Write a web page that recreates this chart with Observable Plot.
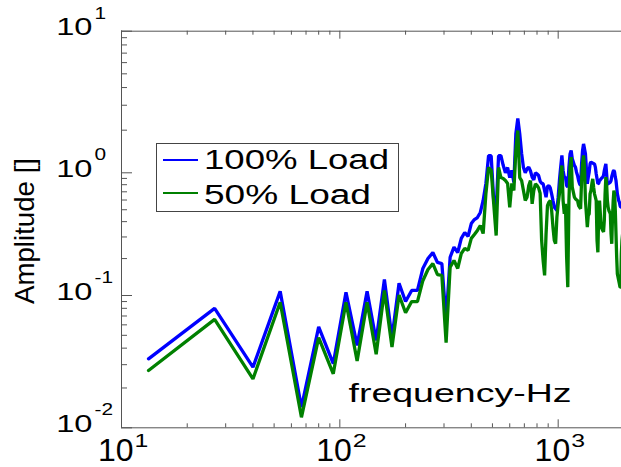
<!DOCTYPE html>
<html><head><meta charset="utf-8">
<script src="https://cdn.jsdelivr.net/npm/d3@7"></script>
<script src="https://cdn.jsdelivr.net/npm/@observablehq/plot@0.6"></script>
<style>
body{margin:0;background:#fff;font-family:"Liberation Sans",Arial,sans-serif;}
#wrap{position:relative;width:621px;height:467px;overflow:hidden;background:#fff;}
</style></head><body><div id="wrap"></div>
<script>
// frequencies (Hz)
const freq = [13.3,26.7,40,53.3,66.7,80,93.3,106.7,120,133.3,146.7,160,173.3,186.7,200,213.3,226.7,240,253.3,266.7,
280,293.3,306.7,320,333.3,346.7,360,373.3,386.7,400,413.3,426.7,440,453.3,466.7,480,493.3,506.7,520,533.3,
546.7,560,573.3,586.7,600,613.3,626.7,640,653.3,666.7,680,693.3,706.7,720,733.3,746.7,760,773.3,786.7,800,
813.3,826.7,840,853.3,866.7,880,893.3,906.7,920,933.3,946.7,960,973.3,986.7,1000,1013.3,1026.7,1040,1053.3,1066.7,
1080,1093.3,1106.7,1120,1133.3,1146.7,1160,1173.3,1186.7,1200,1213.3,1226.7,1240,1253.3,1266.7,1280,1293.3,1306.7,1320,1333.3,
1346.7,1360,1373.3,1386.7,1400,1413.3,1426.7,1440,1453.3,1466.7,1480,1493.3,1506.7,1520,1533.3,1546.7,1560,1573.3,1586.7,1600,
1613.3,1626.7,1640,1653.3,1666.7,1680,1693.3,1706.7,1720,1733.3,1746.7,1760,1773.3,1786.7,1800,1813.3,1826.7,1840,1853.3,1866.7,
1880,1893.3,1906.7,1920,1933.3,1946.7,1960,1973.3,1986.7,2000];
// amplitude, 100% load
const load100 = [0.0332,0.080,0.0287,0.108,0.0143,0.058,0.0305,0.106,0.042,0.108,
0.0457,0.135,0.048,0.126,0.090,0.11,0.11,0.166,0.200,0.224,
0.186,0.182,0.0646,0.205,0.248,0.224,0.292,0.326,0.303,0.386,
0.416,0.432,0.475,0.595,0.818,1.32,1.32,0.595,0.493,1.32,
1.32,1.13,1.0,1.09,0.915,1.04,0.834,1.89,2.42,1.89,
1.37,1.09,1.0,1.067,1.096,1.03,0.921,0.876,1.0,0.981,
0.951,0.855,0.823,0.813,0.717,0.633,0.773,0.788,0.754,0.674,
0.594,0.525,0.509,0.493,0.633,0.865,1.096,1.325,1.038,0.921,
0.921,0.788,0.764,1.096,1.36,1.44,1.255,1.19,1.126,1.096,
1.01,0.951,0.865,0.813,0.788,1.157,1.44,1.60,1.48,1.36,
1.067,0.813,0.921,1.01,1.157,1.19,1.18,1.17,1.16,1.157,
1.096,0.981,0.893,0.813,0.823,0.865,0.876,0.893,0.91,0.921,
0.951,1.038,1.096,1.157,0.981,0.813,0.813,0.823,0.83,0.839,
0.865,0.933,0.981,1.027,1.038,1.01,0.921,0.865,0.764,0.674,
0.633,0.594,0.576,0.541,0.525,0.525,0.525,0.525,0.525,0.525];
// amplitude, 50% load
const load50 = [0.0271,0.066,0.0234,0.089,0.012,0.048,0.0256,0.089,0.032,0.089,
0.036,0.11,0.0407,0.101,0.074,0.090,0.090,0.132,0.163,0.182,
0.148,0.146,0.044,0.170,0.193,0.166,0.220,0.242,0.233,0.292,
0.314,0.339,0.372,0.320,0.678,1.09,1.04,0.562,0.308,1.09,
0.915,0.899,0.865,0.818,0.522,0.818,0.717,1.44,1.99,0.915,
0.865,0.717,0.595,0.633,0.788,0.865,0.558,0.717,0.813,0.788,
0.754,0.682,0.281,0.193,0.146,0.318,0.541,0.576,0.594,0.493,
0.360,0.281,0.264,0.435,0.558,0.674,0.921,1.126,0.594,0.463,
0.558,0.205,0.117,0.594,1.096,1.29,0.764,0.695,0.633,0.614,
0.602,0.594,0.541,0.525,0.509,0.865,1.157,1.325,1.096,0.594,
0.463,0.360,0.449,0.463,0.674,0.717,0.813,0.893,0.764,0.674,
0.633,0.594,0.281,0.225,0.463,0.594,0.463,0.360,0.35,0.339,
0.33,0.409,0.674,0.921,0.813,0.594,0.525,0.493,0.478,0.463,
0.318,0.264,0.435,0.594,0.717,0.674,0.493,0.318,0.205,0.150,
0.141,0.1325,0.125,0.117,0.117,0.219,0.281,0.318,0.339,0.360];

const seriesNames = ["100% Load","50% Load"];
const seriesColors = ["#0000ff","#008000"];
const xMajor = [10,100,1000];
const xExp = ["1","2","3"];
const xMinor = [20,30,40,50,60,70,80,90,200,300,400,500,600,700,800,900];
const yMajor = [0.01,0.1,1,10];
const yExp = ["-2","-1","0","1"];
const yMinor = [0.02,0.03,0.04,0.05,0.06,0.07,0.08,0.09,0.2,0.3,0.4,0.5,0.6,0.7,0.8,0.9,2,3,4,5,6,7,8,9];
const xTitle = "frequency-Hz";
const yTitle = "Amplitude []";

const rows = [load100, load50].flatMap((vals, s) => freq.map((f, i) => ({f, v: vals[i], s: seriesNames[s]})));

const W = 621, H = 467, ML = 121, MT = 30.7, MB = 39.7, MR = 0;
const FH = H - MT - MB, FW = W - ML - MR;
const axisColor = "#555";

const svg = Plot.plot({
  width: W, height: H, marginLeft: ML, marginTop: MT, marginBottom: MB, marginRight: MR,
  style: {background: "transparent", fontFamily: "'Liberation Sans', Arial, sans-serif", color: "#000"},
  x: {type: "log", domain: [10, 2000], range: [121, 623.4], axis: null},
  y: {type: "log", domain: [0.01, 0.1, 1, 10], range: [427.3, 295, 172.3, 30.7], axis: null},
  color: {domain: seriesNames, range: seriesColors},
  marks: [
    Plot.line(rows, {x: "f", y: "v", z: "s", stroke: "s", strokeWidth: 3.3, strokeLinejoin: "miter"}),
    // frame lines
    Plot.ruleX([10], {x: d => d, stroke: axisColor}),
    Plot.ruleY([10], {y: d => d, stroke: axisColor}),
    Plot.ruleY([0.01], {y: d => d, stroke: axisColor}),
    // inward ticks
    Plot.tickX(xMajor, {x: d => d, insetTop: FH - 8, stroke: axisColor}),
    Plot.tickX(xMinor, {x: d => d, insetTop: FH - 4, stroke: axisColor}),
    Plot.tickX(xMajor, {x: d => d, insetBottom: FH - 8, stroke: axisColor}),
    Plot.tickX(xMinor, {x: d => d, insetBottom: FH - 4, stroke: axisColor}),
    Plot.tickY(yMajor, {y: d => d, insetRight: FW - 11, stroke: axisColor}),
    Plot.tickY(yMinor, {y: d => d, insetRight: FW - 6, stroke: axisColor}),
    // tick labels
    Plot.text(yMajor, {y: d => d, frameAnchor: "left", text: () => "10", textAnchor: "end", lineAnchor: "bottom", dx: -29, dy: 4, fontSize: 24, fill: "#000", className: "ylab10"}),
    Plot.text(yMajor, {y: d => d, frameAnchor: "left", text: (d, i) => yExp[i], textAnchor: "start", lineAnchor: "bottom", dx: -27, dy: -12.7, fontSize: 16, fill: "#000", className: "yexp"}),
    Plot.text(xMajor, {x: d => d, frameAnchor: "bottom", text: () => "10", textAnchor: "end", lineAnchor: "bottom", dx: 12, dy: 33, fontSize: 32, fill: "#000", className: "xlab10"}),
    Plot.text(xMajor, {x: d => d, frameAnchor: "bottom", text: (d, i) => xExp[i], textAnchor: "start", lineAnchor: "bottom", dx: 13, dy: 19, fontSize: 19, fill: "#000", className: "xexp"}),
    // titles
    Plot.text([yTitle], {frameAnchor: "left", text: d => d, rotate: -90, textAnchor: "middle", lineAnchor: "bottom", dx: -88, dy: 1.5, fontSize: 28, fill: "#000", className: "ytitle"}),
    Plot.text([xTitle], {frameAnchor: "bottom", text: d => d, textAnchor: "middle", lineAnchor: "bottom", dx: 88.5, dy: -25.6, fontSize: 25, fill: "#000", className: "xtitle"})
  ]
});
document.getElementById("wrap").appendChild(svg);

function stretchTo(cls, fn) {
  d3.select(svg).selectAll(`g.${cls} text`).each(function() {
    const L = this.getComputedTextLength();
    this.setAttribute("textLength", fn(L).toFixed(1));
    this.setAttribute("lengthAdjust", "spacingAndGlyphs");
  });
}
stretchTo("ylab10", L => L * 1.36);
stretchTo("yexp", L => L * 1.3);
stretchTo("xexp", L => L * 1.3);
stretchTo("ytitle", () => 146);
stretchTo("xtitle", () => 223);

// legend
const lg = d3.select(svg).append("g").attr("class", "legend").attr("text-anchor", "start");
lg.append("rect").attr("x", 156.5).attr("y", 143.5).attr("width", 242).attr("height", 68)
  .attr("fill", "#fff").attr("stroke", "#444").attr("stroke-width", 1);
const legendRows = [{y: 160, base: 169, len: 185}, {y: 193, base: 204, len: 167}];
seriesNames.forEach((name, i) => {
  const r = legendRows[i];
  lg.append("line").attr("x1", 163).attr("x2", 198).attr("y1", r.y).attr("y2", r.y)
    .attr("stroke", seriesColors[i]).attr("stroke-width", 2);
  lg.append("text").attr("x", 204).attr("y", r.base).attr("font-size", 27).attr("fill", "#000")
    .attr("text-anchor", "start")
    .attr("font-family", "'Liberation Sans', Arial, sans-serif")
    .attr("textLength", r.len).attr("lengthAdjust", "spacingAndGlyphs").text(name);
});
</script></body></html>
